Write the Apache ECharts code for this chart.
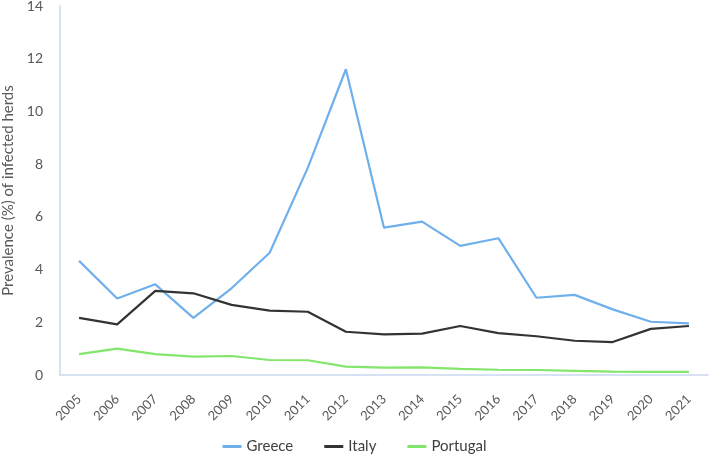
<!DOCTYPE html>
<html>
<head>
<meta charset="utf-8">
<script src="https://cdn.jsdelivr.net/npm/echarts@6/dist/echarts.min.js"></script>
<style>
  html, body { margin: 0; padding: 0; background: #fff; }
  #chart { width: 709px; height: 459px; }
</style>
</head>
<body>
<div id="chart"></div>
<script>
const years = ['2005', '2006', '2007', '2008', '2009', '2010', '2011', '2012', '2013', '2014', '2015', '2016', '2017', '2018', '2019', '2020', '2021'];
const greece = [4.33, 2.9, 3.44, 2.17, 3.29, 4.64, 7.86, 11.6, 5.59, 5.82, 4.9, 5.19, 2.93, 3.04, 2.49, 2.02, 1.96];
const italy = [2.17, 1.92, 3.19, 3.1, 2.66, 2.44, 2.4, 1.64, 1.54, 1.57, 1.86, 1.59, 1.47, 1.3, 1.25, 1.75, 1.86];
const portugal = [0.79, 1.0, 0.79, 0.7, 0.72, 0.57, 0.56, 0.32, 0.28, 0.29, 0.23, 0.2, 0.19, 0.16, 0.13, 0.12, 0.12];

const chart = echarts.init(document.getElementById('chart'));

const textColor = '#595959';
const font = 'Lato, "Open Sans", sans-serif';

const makeLine = (name, data, color) => ({
  name: name,
  type: 'line',
  data: data,
  symbol: 'none',
  lineStyle: { color: color, width: 2.2 },
  itemStyle: { color: color }
});

chart.setOption({
  animation: false,
  textStyle: { fontFamily: font },
  grid: { left: 60, right: 1, top: 6, bottom: 84, containLabel: false, outerBoundsMode: 'none' },
  legend: {
    bottom: 0,
    left: 'center',
    itemWidth: 19,
    itemHeight: 3,
    itemGap: 31,
    icon: 'rect',
    textStyle: { color: '#404040', fontSize: 15, fontFamily: font },
    data: ['Greece', 'Italy', 'Portugal']
  },
  xAxis: {
    type: 'category',
    data: years,
    boundaryGap: true,
    axisLine: { lineStyle: { color: '#c9d8ef', width: 1.5 } },
    axisTick: { show: false },
    axisLabel: { color: textColor, fontSize: 13, rotate: 45, margin: 22, fontFamily: font }
  },
  yAxis: {
    type: 'value',
    min: 0,
    max: 14,
    interval: 2,
    name: 'Prevalence (%) of infected herds',
    nameLocation: 'middle',
    nameGap: 40,
    nameTextStyle: { color: textColor, fontSize: 15, fontFamily: font },
    axisLine: { show: true, lineStyle: { color: '#c9d8ef', width: 1.5 } },
    axisTick: { show: false },
    splitLine: { show: false },
    axisLabel: { color: textColor, fontSize: 14, margin: 17, fontFamily: font }
  },
  series: [
    makeLine('Greece', greece, '#6fb0ec'),
    makeLine('Italy', italy, '#333333'),
    makeLine('Portugal', portugal, '#82e56c')
  ]
});
</script>
</body>
</html>
